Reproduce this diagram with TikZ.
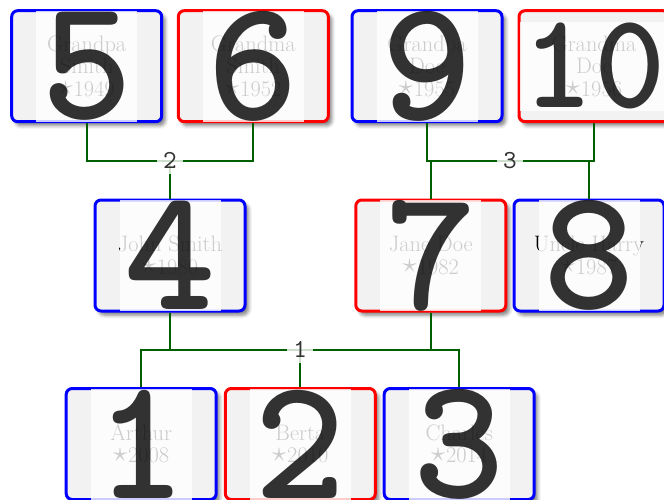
\documentclass[tikz,border=0pt]{standalone}
\usepackage{fontspec}
\newfontfamily\digitfont{lmmonolt10-bold}[Extension=.otf]
\newfontfamily\labelfont{lmmono10-regular}[Extension=.otf]
\usetikzlibrary{shadows.blur}
\definecolor{boxfill}{RGB}{242,242,242}
\definecolor{malecol}{RGB}{0,0,255}
\definecolor{femalecol}{RGB}{255,0,0}
\definecolor{edgegreen}{RGB}{0,96,0}
\definecolor{numgray}{RGB}{51,51,51}
\newcommand{\bornsym}{\raisebox{1.5pt}{\scalebox{2.8}{\fontsize{10}{12}\selectfont$\star$}}\kern1pt}
\tikzset{
  person/.style={rectangle, rounded corners=6pt, draw, line width=3pt, fill=boxfill,
    minimum width=150pt, minimum height=111pt, inner sep=0pt, align=center,
    font=\fontsize{22.4}{22.4}\selectfont,
    blur shadow={shadow xshift=3.5pt, shadow yshift=-4pt, shadow blur radius=3.5pt, shadow opacity=50}},
  malebox/.style={person, draw=malecol},
  femalebox/.style={person, draw=femalecol},
  bignum/.style={rectangle, inner sep=0pt, fill=white, fill opacity=0.8, text=black, text opacity=0.8,
    minimum width=101pt, minimum height=111pt, font=\digitfont\fontsize{174}{174}\selectfont},
  edge/.style={draw=edgegreen, line width=2.2pt},
  famlabel/.style={rectangle, inner sep=0pt, fill=white, fill opacity=0.8, text=numgray, text opacity=1,
    minimum width=26pt, minimum height=26pt, font=\labelfont\fontsize{26}{26}\selectfont}
}
\begin{document}
\begin{tikzpicture}[x=1pt,y=-1pt]
\useasboundingbox (0,0) rectangle (664,499);
\clip (0,0) rectangle (664,499);
% coordinates of family junctions
\coordinate (f2) at (170,160.8);
\coordinate (f3) at (510,160.8);
\coordinate (f1) at (300.3,349.7);
% boxes
\node[malebox]   (b5)  at (86.7,66.2)  {Grandpa\\Smith\\\bornsym1949};
\node[femalebox] (b6)  at (253.3,66.2) {Grandma\\Smith\\\bornsym1952};
\node[malebox]   (b9)  at (427,66.2)   {Grandpa\\Doe\\\bornsym1955};
\node[femalebox] (b10) at (594,66.2)   {Grandma\\Doe\\\bornsym1956};
\node[malebox]   (b4)  at (170,255.5)  {John Smith\\\bornsym1980};
\node[femalebox] (b7)  at (430.8,255.5){Jane Doe\\\bornsym1982};
\node[malebox]   (b8)  at (589,255.5)  {Uncle Harry\\\bornsym1987};
\node[malebox]   (b1)  at (141.2,444)  {Arthur\\\bornsym2008};
\node[femalebox] (b2)  at (300.3,444)  {Berta\\\bornsym2010};
\node[malebox]   (b3)  at (459.2,444)  {Charles\\\bornsym2014};
% connectors
\draw[edge] (b5.south) |- (f2) -| (b6.south);
\draw[edge] (b4.north) -- (f2);
\draw[edge] (b9.south) |- (f3) -| (b10.south);
\draw[edge] (b7.north) -- (b7.north |- f3);
\draw[edge] (b8.north) -- (b8.north |- f3);
\draw[edge] (b1.north) |- (f1) -| (b3.north);
\draw[edge] (b2.north) -- (f1);
\draw[edge] (b4.south) -- (b4.south |- f1);
\draw[edge] (b7.south) -- (b7.south |- f1);
% big numbers
\node[bignum] (n5) at (b5.center) {5};
\node[bignum] (n6) at (b6.center) {6};
\node[bignum] (n9) at (b9.center) {9};
\node[bignum, minimum width=148pt, minimum height=89pt, font=\digitfont\fontsize{136}{136}\selectfont] (n10) at (b10.center) {10};
\node[bignum] (n4) at (b4.center) {4};
\node[bignum] (n7) at (b7.center) {7};
\node[bignum] (n8) at (b8.center) {8};
\node[bignum] (n1) at (b1.center) {1};
\node[bignum] (n2) at (b2.center) {2};
\node[bignum] (n3) at (b3.center) {3};
% family labels
\node[famlabel] (l2) at (f2) {2};
\node[famlabel] (l3) at (f3) {3};
\node[famlabel] (l1) at (f1) {1};
\end{tikzpicture}
\end{document}
